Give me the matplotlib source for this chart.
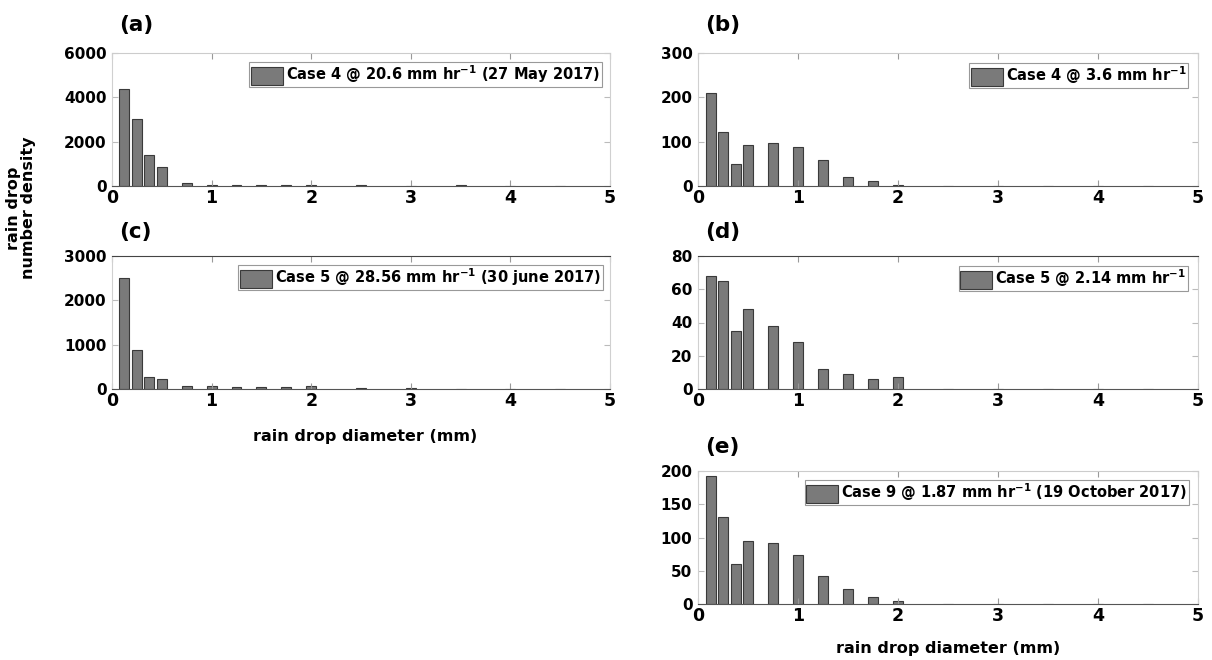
import matplotlib.pyplot as plt

# drop diameter bins (mm) and number densities
diam = [0.125, 0.25, 0.375, 0.5, 0.75, 1.0, 1.25, 1.5, 1.75, 2.0, 2.5, 3.0, 3.5, 4.0, 4.5]
case4_heavy = [4380, 3040, 1380, 840, 135, 60, 60, 45, 30, 60, 30, 15, 30, 0, 0]
case4_light = [210, 121, 50, 92, 98, 89, 59, 21, 10.5, 1.5, 0, 0, 0, 0, 0]
case5_heavy = [2500, 870, 270, 225, 75, 60, 38, 53, 38, 60, 30, 30, 8, 8, 8]
case5_light = [68, 65, 35, 48, 38, 28, 12, 9, 6, 7, 0, 0, 0, 0, 0]
case9_light = [193, 131, 60, 95, 92, 74, 42, 22, 10.5, 4.5, 0, 0, 0, 0, 0]

labels = [
    r'Case 4 @ 20.6 mm hr$^{\mathbf{-1}}$ (27 May 2017)',
    r'Case 4 @ 3.6 mm hr$^{\mathbf{-1}}$',
    r'Case 5 @ 28.56 mm hr$^{\mathbf{-1}}$ (30 june 2017)',
    r'Case 5 @ 2.14 mm hr$^{\mathbf{-1}}$',
    r'Case 9 @ 1.87 mm hr$^{\mathbf{-1}}$ (19 October 2017)',
]
yticks = [
    [0, 2000, 4000, 6000],
    [0, 100, 200, 300],
    [0, 1000, 2000, 3000],
    [0, 20, 40, 60, 80],
    [0, 50, 100, 150, 200],
]
panel_tags = ['(a)', '(b)', '(c)', '(d)', '(e)']

plt.rcParams['font.family'] = 'DejaVu Sans'
plt.rcParams['font.weight'] = 'bold'
plt.rcParams['mathtext.fontset'] = 'dejavusans'

W, H = 1212, 660
fig = plt.figure(figsize=(W / 100, H / 100), dpi=100)


def px_axes(left, top, right, bottom):
    return fig.add_axes([left / W, 1 - bottom / H, (right - left) / W, (bottom - top) / H])


boxes = [
    (112, 53, 610, 186),
    (698, 53, 1198, 186),
    (112, 256, 610, 389),
    (698, 256, 1198, 389),
    (698, 471, 1198, 604),
]
legend_anchor = [(0.984, 0.932), (0.98, 0.925), (0.986, 0.932), (0.98, 0.925), (0.982, 0.932)]
series = [case4_heavy, case4_light, case5_heavy, case5_light, case9_light]

for i, (box, vals) in enumerate(zip(boxes, series)):
    ax = px_axes(*box)
    ax.bar(diam, vals, width=0.1, color='#7a7a7a', edgecolor='#3a3a3a', linewidth=0.8,
           label=labels[i])
    ax.set_xlim(0, 5)
    ax.set_ylim(yticks[i][0], yticks[i][-1])
    ax.set_xticks([0, 1, 2, 3, 4, 5])
    ax.set_yticks(yticks[i])
    ax.tick_params(axis='x', labelsize=12.5, direction='in', top=True, length=4,
                   color='#999999', pad=2)
    ax.tick_params(axis='y', labelsize=11, direction='in', right=True, length=4,
                   color='#bbbbbb', pad=4)
    for lab in ax.get_xticklabels() + ax.get_yticklabels():
        lab.set_fontweight('bold')
    for side in ['left', 'right']:
        ax.spines[side].set_color('#d0d0d0')
    ax.spines['bottom'].set_color('#555555')
    ax.spines['top'].set_color('#444444' if i in (2, 3) else '#cccccc')
    leg = ax.legend(loc='upper right', bbox_to_anchor=legend_anchor[i], borderaxespad=0,
                    fancybox=False, framealpha=1, edgecolor='#999999',
                    prop={'weight': 'bold', 'size': 10.5}, handlelength=2.2,
                    handleheight=1.5, handletextpad=0.2, borderpad=0.12)
    leg.get_frame().set_linewidth(0.8)
    fig.text((box[0] + 7) / W, 1 - 25 / H if i < 2 else 1 - (box[1] - 24) / H,
             panel_tags[i], fontsize=15.5, fontweight='bold', va='center', ha='left')

fig.text(21 / W, 1 - 208 / H, 'rain drop\nnumber density', rotation=90, fontsize=11.5,
         fontweight='bold', ha='center', va='center', linespacing=1.05)
fig.text(365 / W, 1 - 437 / H, 'rain drop diameter (mm)', fontsize=11.5,
         fontweight='bold', ha='center', va='center')
fig.text(948 / W, 1 - 648 / H, 'rain drop diameter (mm)', fontsize=11.5,
         fontweight='bold', ha='center', va='center')

fig.savefig('out.png', dpi=100)
